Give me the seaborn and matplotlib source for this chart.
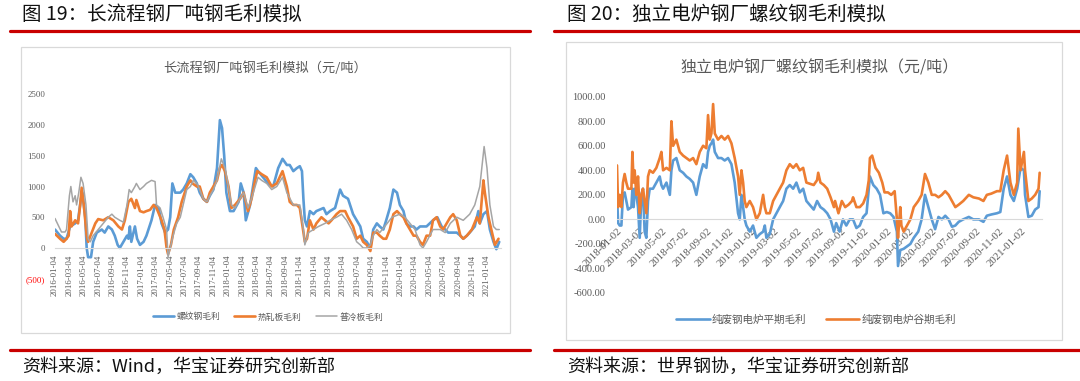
import pandas as pd
import matplotlib.pyplot as plt
import seaborn as sns
from matplotlib.lines import Line2D
from matplotlib.patches import Rectangle

# ==============================================================================
# DATA (x = months since the first date on each axis)
# ==============================================================================

# --- left chart: 长流程钢厂吨钢毛利模拟 (2016-01-04 .. 2021-02) ---
rebar_month = [
    0.0, 0.7, 1.2, 1.6, 2.1, 2.8, 3.2, 3.6, 3.8, 4.2,
    4.4, 4.6, 5.0, 5.3, 5.8, 6.5, 6.9, 7.4, 7.9, 8.3,
    8.7, 9.0, 9.5, 10.0, 10.2, 10.4, 10.6, 11.1, 11.4, 11.8,
    12.3, 12.7, 13.4, 13.9, 14.4, 14.8, 15.3, 15.7, 16.0, 16.3,
    16.7, 17.4, 17.8, 18.3, 18.8, 19.2, 19.7, 20.1, 20.6, 21.1,
    21.5, 22.0, 22.5, 22.9, 23.2, 23.5, 23.8, 24.3, 24.8, 25.5,
    25.8, 26.2, 26.5, 27.1, 27.5, 27.9, 28.2, 28.9, 29.6, 30.3,
    31.0, 31.6, 32.2, 32.6, 33.1, 33.6, 34.0, 34.3, 34.5, 34.7,
    35.0, 35.4, 35.9, 36.3, 37.3, 37.7, 38.2, 38.9, 39.6, 40.0,
    40.7, 41.4, 41.9, 42.4, 42.8, 43.3, 43.8, 44.2, 44.7, 45.1,
    45.6, 46.0, 46.5, 47.0, 47.5, 47.9, 48.4, 48.8, 49.3, 49.8,
    50.2, 50.7, 51.6, 52.5, 53.1, 53.7, 54.2, 54.6, 55.3, 55.8,
    56.3, 56.7, 57.2, 57.6, 58.3, 58.8, 59.0, 59.5, 60.0, 60.4,
    60.9, 61.3, 61.7]
rebar_profit = [
    300, 200, 150, 150, 350, 400, 450, 800, 900, 500,
    0, -150, -150, 100, 250, 300, 250, 350, 300, 200,
    50, 0, 100, 200, 150, 350, 100, 350, 150, 50,
    100, 200, 450, 700, 650, 400, 250, 300, 500, 1050,
    900, 900, 950, 1050, 1200, 1150, 1050, 900, 800, 750,
    850, 950, 1300, 2080, 1950, 1500, 900, 600, 600, 750,
    1050, 900, 450, 700, 1000, 1300, 1250, 1150, 1050, 1000,
    1300, 1450, 1350, 1350, 1250, 1300, 1330, 1250, 800, 450,
    350, 600, 550, 600, 650, 550, 600, 650, 950, 850,
    800, 550, 450, 350, 150, 100, 0, 300, 400, 350,
    300, 450, 650, 950, 900, 700, 600, 400, 350, 350,
    300, 350, 350, 450, 500, 350, 300, 250, 250, 250,
    200, 150, 200, 250, 350, 600, 400, 550, 600, 300,
    100, -20, 100]

hrc_month = [
    0.0, 0.7, 1.2, 1.6, 1.9, 2.1, 2.3, 2.8, 3.2, 3.5,
    3.7, 4.0, 4.4, 4.6, 5.1, 5.6, 6.0, 6.7, 7.4, 8.1,
    8.8, 9.3, 9.7, 10.2, 10.6, 11.1, 11.3, 11.8, 12.3, 12.7,
    13.2, 13.7, 14.1, 14.8, 15.2, 15.5, 15.7, 16.1, 16.5, 17.1,
    17.6, 18.3, 18.8, 19.1, 19.7, 20.1, 20.6, 21.1, 21.5, 22.0,
    22.5, 22.9, 23.2, 23.6, 24.1, 24.5, 25.0, 25.7, 26.2, 26.8,
    27.3, 27.8, 28.1, 28.7, 29.4, 30.1, 30.8, 31.6, 32.2, 32.6,
    33.1, 33.6, 34.0, 34.5, 34.7, 35.0, 35.4, 35.9, 36.3, 37.0,
    37.5, 38.0, 38.4, 39.1, 39.6, 40.3, 40.7, 41.4, 41.9, 42.4,
    42.8, 43.3, 43.8, 44.2, 44.7, 45.1, 45.6, 46.0, 46.5, 47.0,
    47.5, 47.9, 48.4, 48.8, 49.3, 49.8, 50.2, 50.7, 51.1, 51.6,
    52.1, 52.5, 53.0, 53.5, 53.9, 54.4, 54.9, 55.3, 55.8, 56.3,
    56.7, 57.2, 57.9, 58.6, 59.0, 59.5, 59.7, 60.2, 60.6, 61.1,
    61.6]
hrc_profit = [
    230, 150, 100, 150, 200, 600, 350, 450, 400, 700,
    980, 700, 200, 100, 250, 400, 470, 450, 500, 450,
    350, 300, 450, 750, 800, 650, 780, 600, 580, 600,
    620, 700, 650, 450, 300, 0, -100, 50, 300, 500,
    750, 1000, 1100, 1050, 1000, 1000, 800, 750, 900, 1000,
    1100, 1300, 1350, 1250, 1000, 650, 700, 800, 900, 600,
    800, 1100, 1250, 1200, 1150, 1000, 1050, 1250, 1000, 750,
    700, 700, 650, 250, 100, 150, 450, 300, 400, 500,
    450, 400, 450, 550, 600, 600, 500, 350, 150, 200,
    100, 50, -50, 250, 250, 200, 150, 150, 300, 550,
    600, 550, 500, 400, 300, 200, 200, 100, 50, 200,
    200, 450, 500, 350, 300, 400, 500, 550, 450, 200,
    150, 200, 300, 500, 400, 1100, 900, 500, 300, 50,
    150]

crc_month = [
    0.0, 0.9, 1.4, 1.6, 2.0, 2.2, 2.5, 2.8, 3.0, 3.3,
    3.6, 3.9, 4.3, 4.6, 4.9, 5.3, 6.0, 6.7, 7.4, 7.9,
    8.3, 9.0, 9.5, 10.0, 10.3, 10.6, 11.1, 11.3, 11.8, 12.3,
    12.7, 13.4, 13.9, 14.1, 14.6, 15.0, 15.5, 15.7, 16.0, 16.4,
    16.9, 17.4, 17.8, 18.3, 18.8, 19.2, 19.7, 20.1, 20.6, 21.1,
    21.5, 22.0, 22.5, 23.1, 23.6, 24.1, 24.5, 25.0, 25.7, 26.2,
    26.8, 27.3, 27.8, 28.2, 28.7, 29.4, 30.1, 30.8, 31.6, 32.2,
    33.1, 34.0, 34.5, 34.7, 35.2, 35.9, 36.6, 37.5, 38.2, 39.1,
    39.8, 40.5, 41.2, 41.9, 42.4, 42.8, 43.3, 43.8, 44.2, 44.7,
    45.1, 45.8, 46.8, 47.9, 48.6, 49.3, 50.0, 50.7, 51.1, 51.6,
    52.5, 53.5, 54.2, 54.9, 55.8, 56.7, 57.6, 58.3, 59.0, 59.6,
    60.0, 60.4, 60.9, 61.3, 61.7]
crc_profit = [
    480, 260, 260, 300, 850, 1000, 750, 850, 700, 900,
    1150, 1050, 700, 150, 100, 200, 300, 400, 500, 550,
    500, 450, 420, 700, 950, 900, 1000, 1050, 950, 1000,
    1050, 1100, 1080, 700, 650, 500, 300, -150, 0, 200,
    400, 500, 700, 950, 1000, 1100, 1050, 950, 800, 750,
    850, 950, 1100, 1450, 1300, 1000, 700, 650, 800, 900,
    650, 800, 1000, 1150, 1100, 1050, 950, 1000, 1150, 900,
    700, 700, 300, 50, 250, 300, 350, 400, 450, 500,
    550, 450, 300, 100, 50, 0, 0, 50, 200, 300,
    250, 350, 500, 550, 500, 400, 300, 50, 0, 100,
    300, 300, 250, 400, 500, 450, 550, 700, 1000, 1650,
    1300, 700, 350, 300, 300]

left_ticks = [f'{y}-{m:02d}-04' for y in range(2016, 2022) for m in (1, 3, 5, 7, 9, 11)][:31]
left_yticks = [-500, 0, 500, 1000, 1500, 2000, 2500]
left_ylabels = ['(500)', '0', '500', '1000', '1500', '2000', '2500']

# --- right chart: 独立电炉钢厂螺纹钢毛利模拟 (2018-01-02 .. 2021-02) ---
eaf_early = [
    0.0, 0.1, 0.24, 0.39, 0.53, 0.68, 0.83, 0.98, 1.28, 1.37,
    1.48, 1.57, 1.72, 1.87, 2.02, 2.17, 2.31, 2.46, 2.61, 2.76,
    2.91, 3.2, 3.5, 3.8, 3.95, 4.1, 4.4, 4.7, 4.84, 4.99,
    5.28, 5.58, 5.88, 6.17, 6.47, 6.77, 7.06, 7.36, 7.66, 7.95,
    8.1, 8.25, 8.4, 8.55, 8.7, 8.99, 9.29, 9.58, 9.88, 10.18,
    10.47, 10.77, 10.92, 11.07, 11.22, 11.36, 11.51, 11.81, 12.1, 12.4,
    12.7, 13.0, 13.15, 13.29, 13.59, 13.89, 14.18, 14.48, 14.78, 15.07,
    15.37, 15.67, 15.96, 16.26, 16.56, 16.85]

valley_month = eaf_early + [
    17.5, 17.8, 17.9, 18.1, 18.4, 18.7, 19.0, 19.3, 19.4, 19.7,
    20.0, 20.3, 20.6, 20.9, 21.0, 21.3, 21.6, 21.9, 22.2, 22.4,
    22.5, 22.7, 23.0, 23.3, 23.6, 23.8, 24.1, 24.4, 24.7, 24.9,
    25.0, 25.2, 25.3, 25.5, 25.8, 26.1, 26.4, 26.8, 27.1, 27.4,
    27.7, 28.0, 28.3, 28.6, 28.9, 29.2, 29.5, 29.8, 30.1, 30.4,
    30.8, 31.3, 31.7, 32.2, 32.6, 32.9, 33.3, 33.8, 34.1, 34.4,
    34.7, 35.0, 35.3, 35.6, 35.7, 35.9, 36.2, 36.3, 36.6, 36.9,
    37.2, 37.5, 37.6]
valley_profit = [
    440, 100, 200, 100, 300, 370, 300, 250, 250, 550,
    300, 400, 200, 350, 50, 200, 250, 150, 50, 350,
    400, 380, 420, 500, 550, 400, 420, 400, 800, 600,
    650, 550, 520, 500, 480, 500, 450, 550, 600, 580,
    850, 650, 700, 940, 700, 650, 680, 650, 680, 620,
    500, 350, 200, 400, 300, 150, 100, 150, 100, 0,
    50, 200, 100, 50, 50, 150, 200, 250, 300, 400,
    450, 420, 450, 400, 420, 300,
    280, 320, 380, 300, 280, 250, 180, 100, 150, 50,
    150, 100, 120, 150, 180, 100, 100, 130, 200, 320,
    500, 520, 420, 380, 300, 220, 220, 200, 230, 0,
    -150, 100, -50, -100, -50, 0, 100, 150, 200, 370,
    300, 200, 200, 180, 200, 230, 200, 150, 100, 120,
    150, 200, 180, 170, 150, 200, 210, 230, 230, 400,
    520, 300, 200, 300, 740, 400, 550, 400, 150, 170,
    200, 250, 380]

flat_month = eaf_early + [
    17.5, 17.8, 18.1, 18.4, 18.7, 19.0, 19.3, 19.5, 19.8, 20.1,
    20.4, 20.7, 21.0, 21.3, 21.6, 21.9, 22.2, 22.5, 22.8, 23.1,
    23.4, 23.7, 24.0, 24.3, 24.6, 24.9, 25.0, 25.2, 25.5, 25.8,
    26.1, 26.4, 26.8, 27.1, 27.4, 27.7, 28.0, 28.3, 28.6, 28.9,
    29.2, 29.5, 29.8, 30.1, 30.4, 30.8, 31.3, 31.7, 32.2, 32.6,
    32.9, 33.3, 33.8, 34.1, 34.4, 34.7, 35.0, 35.3, 35.6, 35.9,
    36.2, 36.3, 36.6, 36.9, 37.2, 37.5, 37.6]
flat_profit = [
    200, -30, -50, -50, 200, 220, 150, 80, 100, 250,
    100, 250, 200, 100, -150, 200, 250, -100, -150, 150,
    250, 250, 300, 350, 280, 250, 300, 200, 400, 480,
    500, 400, 380, 350, 330, 300, 200, 350, 450, 420,
    550, 600, 620, 650, 550, 500, 500, 480, 500, 450,
    300, 50, 0, 200, 100, 0, -50, -100, -50, -150,
    -120, -100, -50, -150, -120, 0, 50, 100, 150, 250,
    280, 250, 300, 220, 250, 150,
    80, 150, 100, 80, 50, 0, -100, -30, -100, 0,
    -50, 0, 0, -70, -50, 20, 50, 350, 280, 250,
    200, 50, 60, 50, 20, -100, -380, -250, -240, -220,
    -200, -150, -100, 0, 200, 100, 0, -80, 20, 0,
    30, 0, -60, -50, -20, 0, 20, 0, 0, -20,
    30, 40, 50, 60, 250, 350, 200, 150, 250, 420,
    400, 200, 20, 30, 80, 100, 230]

right_ticks = [f'{y}-{m:02d}-02' for y in range(2018, 2022) for m in (1, 3, 5, 7, 9, 11)][:19]
right_yticks = [-600, -400, -200, 0, 200, 400, 600, 800, 1000]

# ==============================================================================
# STYLE
# ==============================================================================

W, H = 1080, 381
BLUE, ORANGE, GREY = '#5B9BD5', '#ED7D31', '#A5A5A5'
RED = '#C90000'
TXT = '#595959'
SERIF = 'Liberation Serif'

sns.set_style('white')
plt.rcParams['font.family'] = ['Noto Sans CJK SC', 'DejaVu Sans']
plt.rcParams['axes.unicode_minus'] = False


def fx(x):
    return x / W


def fy(y):
    return 1 - y / H


def style_axis(ax, ticks, labels, rot, fs_x, fs_y, pad_y):
    for side in ('top', 'right', 'left'):
        ax.spines[side].set_visible(False)
    ax.spines['bottom'].set_position(('data', 0))
    ax.spines['bottom'].set_color('#D9D9D9')
    ax.spines['bottom'].set_linewidth(0.8)
    ax.patch.set_alpha(0)
    ax.set_xticks(ticks)
    if rot == 90:
        ax.set_xticklabels(labels, rotation=90, fontsize=fs_x, family=SERIF, color=TXT)
    else:
        ax.set_xticklabels(labels, rotation=rot, ha='right', va='top', rotation_mode='anchor',
                           fontsize=fs_x, family=SERIF, color=TXT)
    ax.tick_params(axis='x', length=3, color='#D9D9D9', width=0.8, pad=2)
    ax.tick_params(axis='y', length=0, pad=pad_y)
    for t in ax.get_yticklabels():
        t.set_fontsize(fs_y)
        t.set_family(SERIF)
        t.set_color(TXT)
    ax.set_xlabel('')
    ax.set_ylabel('')
    ax.grid(False)


fig = plt.figure(figsize=(W / 100, H / 100), dpi=100)

# --- frames, red rules, headers, sources ---
for x0, y0, x1, y1 in [(21, 47, 510, 333), (566, 42, 1062, 340)]:
    fig.add_artist(Rectangle((fx(x0), fy(y1)), fx(x1 - x0), (y1 - y0) / H,
                             transform=fig.transFigure, fill=False, ec='#D9D9D9', lw=0.9))
for x0, x1 in [(10, 530), (554, 1080)]:
    for y in (31, 350):
        fig.add_artist(Line2D([fx(x0), fx(x1)], [fy(y), fy(y)], transform=fig.transFigure,
                              color=RED, lw=2.3))

fig.text(fx(22), fy(14), '图 19：长流程钢厂吨钢毛利模拟', fontsize=14, color='#111111', va='center')
fig.text(fx(567), fy(14), '图 20：独立电炉钢厂螺纹钢毛利模拟', fontsize=14, color='#111111', va='center')
fig.text(fx(22), fy(367), '资料来源：Wind，华宝证券研究创新部', fontsize=13, color='#111111', va='center')
fig.text(fx(567), fy(367), '资料来源：世界钢协，华宝证券研究创新部', fontsize=13, color='#111111', va='center')

# --- left chart ---
ax1 = fig.add_axes([fx(55), fy(278.7), 446.4 / W, 184.4 / H])
for name, xs, ys, color, lw in [('螺纹钢毛利', rebar_month, rebar_profit, BLUE, 1.9),
                                ('热轧板毛利', hrc_month, hrc_profit, ORANGE, 1.9),
                                ('普冷板毛利', crc_month, crc_profit, GREY, 1.1)]:
    sns.lineplot(x=xs, y=ys, ax=ax1, color=color, linewidth=lw, label=name,
                 estimator=None, legend=False)
ax1.set_xlim(0, 62)
ax1.set_ylim(-500, 2500)
ax1.set_yticks(left_yticks, left_ylabels)
style_axis(ax1, list(range(0, 61, 2)), left_ticks, 90, 6.3, 6.3, 7)
ax1.get_yticklabels()[0].set_color('#FF0000')

fig.text(fx(265), fy(68), '长流程钢厂吨钢毛利模拟（元/吨）', fontsize=9.5, color=TXT,
         ha='center', va='center')
h1, l1 = ax1.get_legend_handles_labels()
fig.legend(h1, l1, loc='center', bbox_to_anchor=(fx(268), fy(317)), ncol=3, frameon=False,
           fontsize=6.3, labelcolor=TXT, handlelength=2.4, columnspacing=1.6, handletextpad=0.3)

# --- right chart ---
ax2 = fig.add_axes([fx(617), fy(293), 424.9 / W, 196.3 / H])
for name, xs, ys, color in [('纯废钢电炉平期毛利', flat_month, flat_profit, BLUE),
                            ('纯废钢电炉谷期毛利', valley_month, valley_profit, ORANGE)]:
    sns.lineplot(x=xs, y=ys, ax=ax2, color=color, linewidth=1.9, label=name,
                 estimator=None, legend=False)
ax2.set_xlim(0, 37.8)
ax2.set_ylim(-600, 1000)
ax2.set_yticks(right_yticks, [f'{v:.2f}' for v in right_yticks])
style_axis(ax2, list(range(0, 37, 2)), right_ticks, 45, 7.8, 7.5, 8)

fig.text(fx(820), fy(68), '独立电炉钢厂螺纹钢毛利模拟（元/吨）', fontsize=11.5, color=TXT,
         ha='center', va='center')
h2, l2 = ax2.get_legend_handles_labels()
fig.legend(h2, l2, loc='center', bbox_to_anchor=(fx(816), fy(320)), ncol=2, frameon=False,
           fontsize=7.6, labelcolor=TXT, handlelength=3.2, columnspacing=1.8, handletextpad=0.2)

fig.savefig('out.png', dpi=100)
